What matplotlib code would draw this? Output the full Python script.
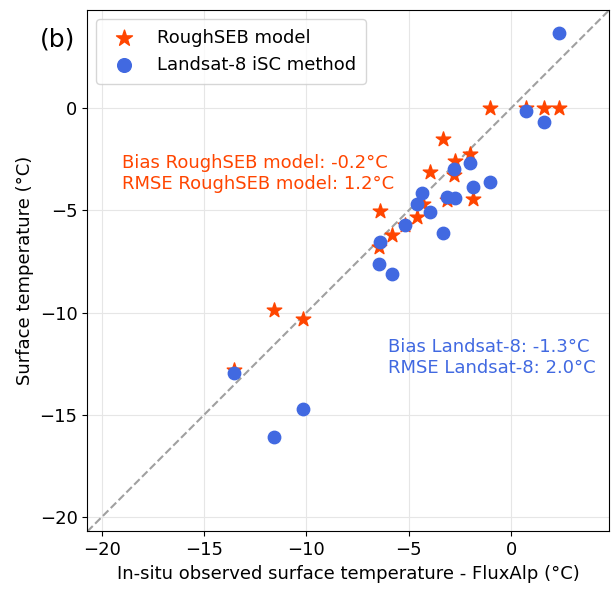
import matplotlib
matplotlib.use("Agg")
import matplotlib.pyplot as plt

# In-situ observed surface temperature at FluxAlp (°C), one per acquisition
obs_roughseb = [-1.02, 0.73, 1.61, 2.34, -3.30, -2.00, -2.73, -3.94, -2.77,
                -3.11, -1.84, -6.39, -4.30, -4.60, -5.82, -6.44, -5.17,
                -13.51, -11.56, -10.16]
sim_roughseb = [0.0, 0.0, 0.0, 0.0, -1.53, -2.26, -2.59, -3.11, -3.27,
                -4.49, -4.44, -5.03, -4.67, -5.30, -6.18, -6.77, -5.70,
                -12.79, -9.89, -10.31]

obs_landsat = [-1.02, 0.73, 1.61, 2.34, -3.30, -2.00, -2.73, -3.94, -2.77,
               -3.11, -1.84, -6.39, -4.36, -4.60, -5.82, -6.44, -5.17,
               -13.51, -11.56, -10.16]
sim_landsat = [-3.61, -0.15, -0.67, 3.69, -6.08, -2.67, -4.38, -5.06, -2.99,
               -4.33, -3.87, -6.52, -4.16, -4.69, -8.12, -7.63, -5.70,
               -12.95, -16.07, -14.69]

ticks = [-20, -15, -10, -5, 0]
lims = (-20.7, 4.8)

c_seb = "#FF4500"
c_ls = "#4169E1"

fig = plt.figure(figsize=(6.11, 5.90), dpi=100)
ax = fig.add_axes([0.1429, 0.0992, 0.8543, 0.8838])

ax.plot(lims, lims, ls="--", color="#a0a0a0", lw=1.5, zorder=1)
ax.scatter(obs_roughseb, sim_roughseb, marker="*", s=120, color=c_seb,
           label="RoughSEB model", zorder=3)
ax.scatter(obs_landsat, sim_landsat, marker="o", s=80, color=c_ls,
           label="Landsat-8 iSC method", zorder=4)

ax.set_xlim(lims)
ax.set_ylim(lims)
ax.set_xticks(ticks)
ax.set_yticks(ticks)
ax.tick_params(labelsize=13)
ax.grid(True, color="#e6e6e6", lw=0.8)
ax.set_axisbelow(True)

ax.set_xlabel("In-situ observed surface temperature - FluxAlp (°C)", fontsize=13)
ax.set_ylabel("Surface temperature (°C)", fontsize=13)

ax.text(-19.0, -3.2, "Bias RoughSEB model: -0.2°C\nRMSE RoughSEB model: 1.2°C",
        color=c_seb, fontsize=13, va="center", ha="left")
ax.text(-6.0, -12.2, "Bias Landsat-8: -1.3°C\nRMSE Landsat-8: 2.0°C",
        color=c_ls, fontsize=13, va="center", ha="left")

ax.legend(loc="upper left", fontsize=13, borderpad=0.55, markerscale=1.1)

fig.text(58 / 611, 1 - 40 / 590, "(b)", fontsize=18, ha="center", va="center")

fig.savefig("out.png", dpi=100)
